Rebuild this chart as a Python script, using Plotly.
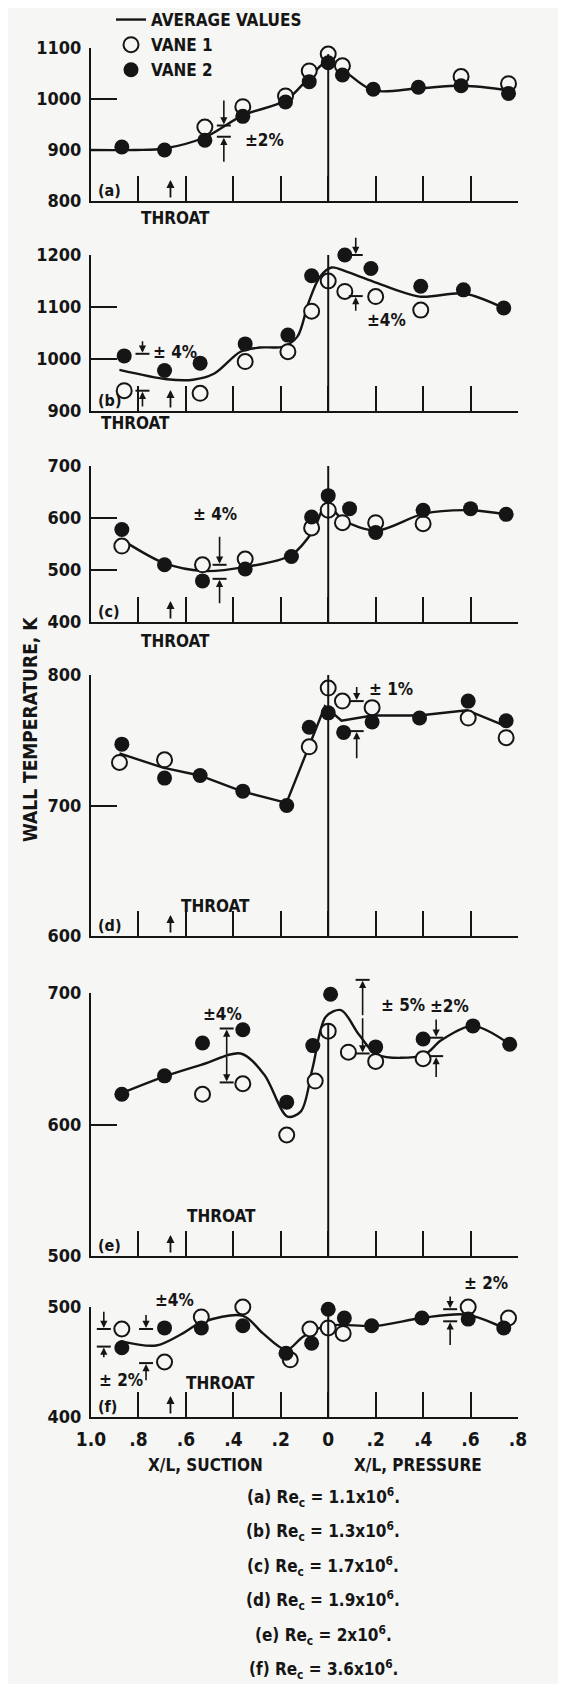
import plotly.graph_objects as go

W, H = 566, 1684
FONT = "DejaVu Sans Condensed, DejaVu Sans, sans-serif"
INK = "#151515"
BG = "#f6f6f4"

# ---------------- data ----------------
panel_labels = ["(a)", "(b)", "(c)", "(d)", "(e)", "(f)"]
y_ranges = [(800, 1100), (900, 1200), (400, 700), (600, 800), (500, 700), (400, 500)]
y_ticks = [[800, 900, 1000, 1100], [900, 1000, 1100, 1200], [400, 500, 600, 700],
           [600, 700, 800], [500, 600, 700], [400, 500]]
x_tick_vals = [-1.0, -0.8, -0.6, -0.4, -0.2, 0.0, 0.2, 0.4, 0.6, 0.8]
x_tick_text = ["1.0", ".8", ".6", ".4", ".2", "0", ".2", ".4", ".6", ".8"]
throat_x = -0.665
zero_line_top = [1088, 1200, 700, 800, 677, 498]

# panel (a)  Re_c = 1.1x10^6
a_v1_x = [-0.52, -0.36, -0.18, -0.08, 0.0, 0.06, 0.56, 0.76]
a_v1_y = [945, 985, 1006, 1055, 1088, 1065, 1044, 1030]
a_v2_x = [-0.87, -0.69, -0.52, -0.36, -0.18, -0.08, 0.0, 0.06, 0.19, 0.38, 0.56, 0.76]
a_v2_y = [906, 900, 919, 966, 994, 1034, 1071, 1047, 1019, 1023, 1026, 1011]
a_avg_x = [-1.0, -0.81, -0.69, -0.52, -0.36, -0.18, -0.08, 0.0, 0.06, 0.19, 0.38, 0.57, 0.78]
a_avg_y = [900, 900, 903, 925, 968, 997, 1042, 1075, 1058, 1017, 1021, 1026, 1016]

# panel (b)  Re_c = 1.3x10^6
b_v1_x = [-0.86, -0.54, -0.35, -0.17, -0.07, 0.0, 0.07, 0.2, 0.39]
b_v1_y = [939, 934, 995, 1014, 1092, 1150, 1130, 1120, 1094]
b_v2_x = [-0.86, -0.69, -0.54, -0.35, -0.17, -0.07, 0.0, 0.07, 0.18, 0.39, 0.57, 0.74]
b_v2_y = [1006, 978, 992, 1029, 1046, 1160, 1203, 1200, 1174, 1140, 1133, 1098]
b_avg_x = [-0.88, -0.68, -0.57, -0.48, -0.37, -0.29, -0.19, -0.13, -0.084, -0.035, 0.014, 0.077, 0.19, 0.385, 0.573, 0.744]
b_avg_y = [979, 961, 960, 972, 1014, 1022, 1024, 1043, 1107, 1158, 1176, 1168, 1149, 1120, 1126, 1097]

# panel (c)  Re_c = 1.7x10^6
c_v1_x = [-0.87, -0.53, -0.35, -0.07, 0.0, 0.06, 0.2, 0.4]
c_v1_y = [546, 510, 521, 581, 615, 591, 591, 589]
c_v2_x = [-0.87, -0.69, -0.53, -0.35, -0.155, -0.07, 0.0, 0.09, 0.2, 0.4, 0.6, 0.75]
c_v2_y = [578, 510, 479, 502, 526, 602, 643, 618, 572, 615, 618, 607]
c_avg_x = [-0.866, -0.69, -0.528, -0.348, -0.155, -0.063, -0.007, 0.063, 0.204, 0.401, 0.596, 0.754]
c_avg_y = [557, 513, 498, 506, 529, 576, 627, 596, 576, 608, 615, 607]

# panel (d)  Re_c = 1.9x10^6
d_v1_x = [-0.88, -0.69, -0.08, 0.0, 0.06, 0.185, 0.59, 0.75]
d_v1_y = [733, 735, 745, 790, 780, 775, 767, 752]
d_v2_x = [-0.87, -0.69, -0.54, -0.36, -0.175, -0.08, 0.0, 0.065, 0.185, 0.385, 0.59, 0.75]
d_v2_y = [747, 721, 723, 711, 700, 760, 771, 756, 764, 767, 780, 765]
d_avg_x = [-0.88, -0.697, -0.542, -0.366, -0.176, -0.085, -0.014, 0.056, 0.186, 0.383, 0.585, 0.746]
d_avg_y = [740, 729, 723, 711, 702, 743, 776, 765, 769, 769, 773, 761]

# panel (e)  Re_c = 2x10^6
e_v1_x = [-0.53, -0.36, -0.175, -0.055, 0.0, 0.085, 0.2, 0.4]
e_v1_y = [623, 631, 592, 633, 671, 655, 648, 650]
e_v2_x = [-0.87, -0.69, -0.53, -0.36, -0.175, -0.065, 0.01, 0.09, 0.2, 0.4, 0.61, 0.765]
e_v2_y = [623, 637, 662, 672, 617, 660, 699, 711, 659, 665, 675, 661]
e_avg_x = [-0.869, -0.683, -0.524, -0.369, -0.27, -0.172, -0.115, -0.066, -0.01, 0.054, 0.131, 0.208, 0.403, 0.476, 0.61, 0.765]
e_avg_y = [624, 637, 646, 654, 638, 606, 610, 643, 682, 687, 668, 653, 653, 664, 675, 661]

# panel (f)  Re_c = 3.6x10^6
f_v1_x = [-0.87, -0.69, -0.535, -0.36, -0.16, -0.077, 0.0, 0.063, 0.59, 0.76]
f_v1_y = [480, 450, 491, 500, 452, 480, 481, 476, 500, 490]
f_v2_x = [-0.87, -0.69, -0.535, -0.36, -0.178, -0.07, 0.0, 0.068, 0.183, 0.395, 0.59, 0.74]
f_v2_y = [463, 481, 481, 483, 458, 467, 498, 490, 483, 490, 489, 481]
f_avg_x = [-0.876, -0.725, -0.613, -0.535, -0.359, -0.275, -0.176, -0.106, -0.007, 0.204, 0.394, 0.585, 0.739]
f_avg_y = [469, 465, 476, 486, 492, 476, 461, 473, 483, 483, 490, 493, 481]

captions = [
    "(a) Re<sub>c</sub> = 1.1x10<sup>6</sup>.",
    "(b) Re<sub>c</sub> = 1.3x10<sup>6</sup>.",
    "(c) Re<sub>c</sub> = 1.7x10<sup>6</sup>.",
    "(d) Re<sub>c</sub> = 1.9x10<sup>6</sup>.",
    "(e) Re<sub>c</sub> = 2x10<sup>6</sup>.",
    "(f) Re<sub>c</sub> = 3.6x10<sup>6</sup>.",
]

vane1 = [(a_v1_x, a_v1_y), (b_v1_x, b_v1_y), (c_v1_x, c_v1_y), (d_v1_x, d_v1_y), (e_v1_x, e_v1_y), (f_v1_x, f_v1_y)]
vane2 = [(a_v2_x, a_v2_y), (b_v2_x, b_v2_y), (c_v2_x, c_v2_y), (d_v2_x, d_v2_y), (e_v2_x, e_v2_y), (f_v2_x, f_v2_y)]
avg = [(a_avg_x, a_avg_y), (b_avg_x, b_avg_y), (c_avg_x, c_avg_y), (d_avg_x, d_avg_y), (e_avg_x, e_avg_y), (f_avg_x, f_avg_y)]
avg_shape = ["spline", "spline", "spline", "linear", "spline", "spline"]

# uncertainty indicators: (panel, kind, x, arrow_top, bar_top, bar_bot, arrow_bot, text, tx, ty)
indicators = [
    (0, "in", -0.44, 1000, 948, 926, 874, "±2%", -0.36, 919),
    (1, "in", -0.783, 1037, 1010, 939, 906, "± 4%", -0.748, 1014),
    (1, "in", 0.116, 1236, 1200, 1121, 1090, "±4%", 0.154, 1075),
    (2, "in", -0.458, 567, 510, 483, 433, "± 4%", -0.577, 608),
    (3, "in", 0.12, 792, 780, 757, 735, "± 1%", 0.162, 789),
    (4, "out", -0.428, None, 673, 632, None, "±4%", -0.538, 684),
    (4, "out", 0.145, None, 710, 654, None, "± 5%", 0.215, 691),
    (4, "in", 0.455, 681, 666, 652, 635, "±2%", 0.42, 690),
    (5, "in", -0.946, 497, 480, 464, 453, "± 2%", -0.976, 434),
    (5, "in", -0.768, 494, 480, 449, 432, "±4%", -0.74, 506),
    (5, "in", 0.514, 511, 498, 487, 464, "± 2%", 0.563, 522),
]

# ---------------- layout geometry (pixels) ----------------
X0, X1 = 83, 510
PANEL_PX = [(40, 193), (247, 403), (458, 614), (667, 928), (985, 1248), (1299, 1409)]
THROAT_PX = [(167, 210), (127, 415), (167, 633), (207, 898), (213, 1208), (212, 1375)]


def fnt(size):
    return dict(family=FONT, color=INK, size=size, weight="bold")


TXT = fnt(17)


def px(x):
    return x / W


def py(y):
    return 1 - y / H


def xpix(x):
    return X0 + (x + 1.0) / 1.8 * (X1 - X0)


def ypix(i, y):
    lo, hi = y_ranges[i]
    top, bot = PANEL_PX[i]
    return bot - (y - lo) / (hi - lo) * (bot - top)


fig = go.Figure()
layout = dict(
    width=W, height=H, autosize=False,
    margin=dict(l=0, r=0, t=0, b=0, autoexpand=False),
    paper_bgcolor=BG, plot_bgcolor="rgba(0,0,0,0)",
    font=dict(family=FONT, size=18, color=INK),
    showlegend=True,
    legend=dict(x=px(103), y=py(-6), xanchor="left", yanchor="top",
                bgcolor="rgba(0,0,0,0)", font=fnt(17), itemwidth=30, tracegroupgap=0),
)
shapes = []
annotations = []

for i in range(6):
    s = "" if i == 0 else str(i + 1)
    xa, ya = "x" + s, "y" + s
    lo, hi = y_ranges[i]
    top_px, bot_px = PANEL_PX[i]

    ax_, ay_ = avg[i]
    fig.add_trace(go.Scatter(
        x=ax_, y=ay_, mode="lines", xaxis=xa, yaxis=ya,
        line=dict(color=INK, width=2.4, shape=avg_shape[i], smoothing=0.9),
        name="AVERAGE VALUES", showlegend=(i == 0), cliponaxis=False, hoverinfo="skip"))
    v1x, v1y = vane1[i]
    fig.add_trace(go.Scatter(
        x=v1x, y=v1y, mode="markers", xaxis=xa, yaxis=ya,
        marker=dict(symbol="circle", size=15, color=BG, line=dict(color=INK, width=2)),
        name="VANE 1", showlegend=(i == 0), cliponaxis=False))
    v2x, v2y = vane2[i]
    fig.add_trace(go.Scatter(
        x=v2x, y=v2y, mode="markers", xaxis=xa, yaxis=ya,
        marker=dict(symbol="circle", size=15, color=INK, line=dict(width=0)),
        name="VANE 2", showlegend=(i == 0), cliponaxis=False))

    last = (i == 5)
    layout["xaxis" + s] = dict(
        domain=[px(X0), px(X1)], range=[-1.0, 0.8], anchor=ya, automargin=False,
        tickvals=x_tick_vals, ticktext=x_tick_text, showticklabels=last,
        ticks="inside", ticklen=25, tickwidth=2, tickcolor=INK,
        showline=True, linewidth=2, linecolor=INK, showgrid=False, zeroline=False,
        tickfont=fnt(19), ticklabelstandoff=4, fixedrange=True)
    layout["yaxis" + s] = dict(
        domain=[py(bot_px), py(top_px)], range=[lo, hi], anchor=xa, automargin=False,
        tickvals=y_ticks[i], ticks="inside", ticklen=26, tickwidth=2, tickcolor=INK,
        showline=True, linewidth=2, linecolor=INK, showgrid=False, zeroline=False,
        tickfont=fnt(18), ticklabelstandoff=4, fixedrange=True)

    # vertical line at the leading edge (x = 0)
    shapes.append(dict(type="line", xref="paper", yref="paper",
                       x0=px(xpix(0)), x1=px(xpix(0)),
                       y0=py(ypix(i, lo)), y1=py(ypix(i, zero_line_top[i])),
                       line=dict(color=INK, width=2)))

    # throat arrow
    annotations.append(dict(x=px(xpix(throat_x)), y=py(bot_px - 21), xref="paper", yref="paper",
                            ax=0, ay=19, text="", showarrow=True, arrowhead=2, arrowsize=0.9,
                            arrowwidth=1.8, arrowcolor=INK))
    tx, ty = THROAT_PX[i]
    annotations.append(dict(x=px(tx), y=py(ty), xref="paper", yref="paper", text="THROAT",
                            showarrow=False, xanchor="center", yanchor="middle", font=TXT))
    # panel label
    annotations.append(dict(x=px(88), y=py(bot_px - 11), xref="paper", yref="paper",
                            text=panel_labels[i], showarrow=False, xanchor="left",
                            yanchor="middle", font=fnt(16)))

# uncertainty indicators
for (p, kind, x, a_top, b_top, b_bot, a_bot, txt, tx, ty) in indicators:
    xp = xpix(x)
    for yb in (b_top, b_bot):
        yy = py(ypix(p, yb))
        shapes.append(dict(type="line", xref="paper", yref="paper", x0=px(xp - 7), x1=px(xp + 7),
                           y0=yy, y1=yy, line=dict(color=INK, width=2)))
    if kind == "in":
        pairs = [(a_top, b_top), (a_bot, b_bot)]
    else:
        mid = (b_top + b_bot) / 2
        pairs = [(mid, b_top), (mid, b_bot)]
    for (yf, yt) in pairs:
        head = ypix(p, yt)
        tail = ypix(p, yf)
        annotations.append(dict(x=px(xp), y=py(head), xref="paper", yref="paper",
                                ax=0, ay=tail - head,
                                text="", showarrow=True, arrowhead=2, arrowsize=0.9,
                                arrowwidth=1.6, arrowcolor=INK, standoff=1))
    annotations.append(dict(x=px(xpix(tx)), y=py(ypix(p, ty)), xref="paper", yref="paper",
                            text=txt, showarrow=False, xanchor="left", yanchor="middle", font=TXT))

# axis titles
annotations.append(dict(x=px(22), y=py(722), xref="paper", yref="paper",
                        text="WALL TEMPERATURE, K", textangle=-90, showarrow=False,
                        xanchor="center", yanchor="middle", font=fnt(19)))
annotations.append(dict(x=px(197), y=py(1457), xref="paper", yref="paper",
                        text="X/L, SUCTION", showarrow=False, xanchor="center", yanchor="middle",
                        font=fnt(17)))
annotations.append(dict(x=px(410), y=py(1457), xref="paper", yref="paper",
                        text="X/L, PRESSURE", showarrow=False, xanchor="center", yanchor="middle",
                        font=fnt(17)))
for k, cap in enumerate(captions):
    annotations.append(dict(x=px(315), y=py(1489 + 34.5 * k), xref="paper", yref="paper",
                            text=cap, showarrow=False, xanchor="center", yanchor="middle",
                            font=fnt(17)))

layout["shapes"] = shapes
layout["annotations"] = annotations
fig.update_layout(**layout)
fig.write_html("out.html")
